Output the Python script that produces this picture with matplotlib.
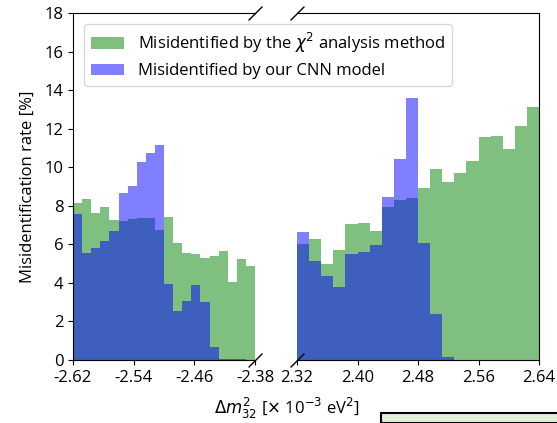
import numpy as np
import matplotlib
matplotlib.use("Agg")
import matplotlib.pyplot as plt
from matplotlib.patches import Rectangle

plt.rcParams['font.family'] = ['Open Sans', 'DejaVu Sans']
plt.rcParams['font.size'] = 12

# negative mass ordering side: 20 bins from -2.62 to -2.38
left_range = (-2.62, -2.38)
left_chi2 = [8.13, 8.34, 7.63, 7.96, 7.25, 7.20, 7.32, 7.37, 7.37, 6.74,
             7.44, 6.08, 5.56, 5.49, 5.28, 5.42, 5.65, 4.06, 5.23, 4.90]
left_cnn = [7.55, 5.56, 5.82, 6.18, 6.70, 8.64, 9.05, 10.28, 10.76, 11.14,
            3.94, 2.54, 3.06, 3.89, 3.01, 0.67, 0.03, 0.03, 0.05, 0.0]

# positive mass ordering side: 20 bins from 2.32 to 2.64
right_range = (2.32, 2.64)
right_chi2 = [6.04, 6.29, 4.96, 5.70, 7.08, 7.12, 6.68, 7.93, 8.29, 8.39,
              8.91, 9.90, 9.21, 9.72, 10.33, 11.57, 11.61, 10.93, 12.12, 13.11]
right_cnn = [6.65, 5.13, 4.34, 3.80, 5.49, 5.61, 5.96, 8.45, 10.41, 13.59,
             6.08, 2.40, 0.16, 0.0, 0.0, 0.0, 0.0, 0.0, 0.0, 0.0]

left_ticks = [-2.62, -2.54, -2.46, -2.38]
right_ticks = [2.32, 2.40, 2.48, 2.56, 2.64]

fig = plt.figure(figsize=(5.57, 4.23), dpi=100)
W, H = 557, 423
ax1 = fig.add_axes([73 / W, 1 - 360 / H, 182 / W, 347 / H])
ax2 = fig.add_axes([297 / W, 1 - 360 / H, 242 / W, 347 / H])


def draw(ax, rng, chi2, cnn):
    edges = np.linspace(rng[0], rng[1], len(chi2) + 1)
    width = edges[1] - edges[0]
    ax.bar(edges[:-1], chi2, width=width, align='edge', color='green', alpha=0.5,
           label=r'Misidentified by the $\chi^2$ analysis method')
    ax.bar(edges[:-1], cnn, width=width, align='edge', color='blue', alpha=0.5,
           label='Misidentified by our CNN model')
    ax.set_xlim(rng)
    ax.set_ylim(0, 18)


draw(ax1, left_range, left_chi2, left_cnn)
draw(ax2, right_range, right_chi2, right_cnn)

ax1.set_xticks(left_ticks)
ax1.set_xticklabels(['%.2f' % t for t in left_ticks])
ax2.set_xticks(right_ticks)
ax2.set_xticklabels(['%.2f' % t for t in right_ticks])
ax1.set_yticks(range(0, 19, 2))
ax1.set_ylabel('Misidentification rate [%]', labelpad=6)

ax1.spines['right'].set_visible(False)
ax2.spines['left'].set_visible(False)
ax2.tick_params(axis='y', left=False, labelleft=False)

# break marks
kw = dict(marker=[(-1, -1), (1, 1)], markersize=10, linestyle='none',
          color='k', mec='k', mew=1, clip_on=False)
ax1.plot([1, 1], [0, 1], transform=ax1.transAxes, **kw)
ax2.plot([0, 0], [0, 1], transform=ax2.transAxes, **kw)

h, l = ax1.get_legend_handles_labels()
fig.legend(h, l, loc='upper left', bbox_to_anchor=(76 / W, 1 - 16 / H),
           frameon=True, framealpha=0.8)

fig.text(287 / W, 1 - 408 / H, r'$\Delta m^2_{32}$ [$\times$ 10$^{-3}$ eV$^2$]',
         ha='center', va='center')

fig.patches.append(Rectangle((381 / W, 0), 1, 1 - 413 / H, transform=fig.transFigure,
                             facecolor='#e2efd9', edgecolor='black', linewidth=1.5))

fig.savefig('out.png', dpi=100)
